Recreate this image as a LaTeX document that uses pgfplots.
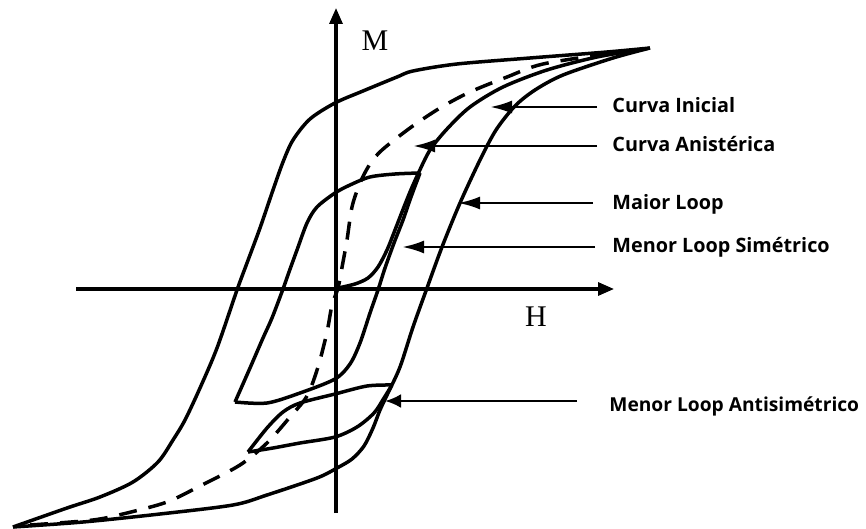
\documentclass[border=0pt]{standalone}
\usepackage{fontspec}
\usepackage{pgfplots}
\pgfplotsset{compat=1.18}
\usetikzlibrary{arrows.meta}
\setmainfont{Liberation Serif}
\newfontfamily\lab{Open Sans}

\begin{document}
\begin{tikzpicture}
\useasboundingbox (0,0) rectangle (433pt,264.5pt);
\begin{axis}[
    at={(0,0)}, anchor=south west,
    width=433pt, height=264.5pt, scale only axis,
    xmin=0, xmax=866, ymin=0, ymax=529,
    y dir=reverse,
    hide axis, clip=false,
    every axis plot/.append style={line width=1.75pt, black},
]

% eixos
\addplot[line width=1.6pt, -{Triangle[length=8pt,width=6.5pt]}] coordinates {(76,289) (614,289)};
\addplot[line width=1.6pt, -{Triangle[length=8pt,width=6.5pt]}] coordinates {(336,513) (336,8)};

% maior loop, ramo descendente
\addplot[smooth] coordinates {
    (650,48) (607,52) (530,58) (457,64) (413,71) (397,77) (363,91) (335,103)
    (310,119) (293,140) (283,162) (273,190) (260,228) (247,263) (237,290)
    (217,348) (200,388) (185,420) (173,440) (158,462) (133,482) (100,497)
    (67,508) (13,527)
};
% maior loop, ramo ascendente
\addplot[smooth] coordinates {
    (13,527) (83,522) (160,514) (233,505) (267,495) (317,478) (337,468)
    (352,459) (364,446) (373,428) (380,410) (388,393) (400,367) (413,327)
    (427,288) (442,247) (460,203) (480,160) (496,130) (515,106) (535,90)
    (563,75) (613,58) (650,48)
};

% curva inicial
\addplot[smooth] coordinates {
    (338,288) (355,284) (368,278) (378,267) (387,250) (395,230) (402,212)
    (410,192) (418,174) (430,150) (447,129) (470,107) (503,87) (547,70)
    (597,57) (645,49)
};

% curva anisterica (tracejada)
\addplot[smooth, dash pattern=on 9pt off 6pt] coordinates {
    (30,525) (93,520) (127,513) (167,502) (200,486) (240,465) (267,443)
    (290,417) (307,396) (318,367) (327,332) (332,305) (338,288) (343,262)
    (347,240) (352,207) (360,183) (370,164) (382,150) (410,128) (440,108)
    (470,92) (507,77) (543,64) (613,53) (645,49)
};

% menor loop simetrico
\addplot[smooth] coordinates {
    (420,173) (395,174) (370,177) (350,185) (335,193) (317,207) (307,223)
    (297,250) (289,272) (283,289) (272,318) (263,338) (250,368) (235,402)
};
\addplot[smooth] coordinates {
    (235,402) (267,403) (300,393) (335,379) (350,364) (360,343) (370,313)
    (378,290) (385,268) (394,243) (403,220) (411,197) (420,173)
};

% menor loop antisimetrico
\addplot[smooth] coordinates {
    (392,385) (367,386) (335,394) (300,403) (283,412) (267,428) (248,452)
};
\addplot[smooth] coordinates {
    (248,452) (273,448) (300,443) (335,437) (357,427) (374,413) (384,398) (392,385)
};

% setas das legendas
\addplot[line width=1.4pt, -{Latex[length=11pt,width=6.5pt]}] coordinates {(597,107) (490,107)};
\addplot[line width=1.4pt, -{Latex[length=11pt,width=6.5pt]}] coordinates {(597,146) (413,146)};
\addplot[line width=1.4pt, -{Latex[length=11pt,width=6.5pt]}] coordinates {(593,203) (458,203)};
\addplot[line width=1.4pt, -{Latex[length=11pt,width=6.5pt]}] coordinates {(595,247) (402,247)};
\addplot[line width=1.4pt, -{Latex[length=8pt,width=7pt]}] coordinates {(577,401) (385,401)};

\node[font=\fontsize{15}{18}\selectfont] at (axis cs:375,41) {M};
\node[font=\fontsize{15}{18}\selectfont] at (axis cs:536,317) {H};

\begin{scope}[every node/.style={anchor=base west, inner sep=0pt,
        font=\lab\bfseries\fontsize{9.9}{12}\selectfont}]
\node at (axis cs:612,113) {Curva Inicial};
\node at (axis cs:612,152) {Curva Anistérica};
\node at (axis cs:612,210) {Maior Loop};
\node at (axis cs:612,252) {Menor Loop Simétrico};
\node[font=\lab\bfseries\fontsize{9.6}{12}\selectfont] at (axis cs:609,411) {Menor Loop Antisimétrico};
\end{scope}

\end{axis}
\end{tikzpicture}
\end{document}
